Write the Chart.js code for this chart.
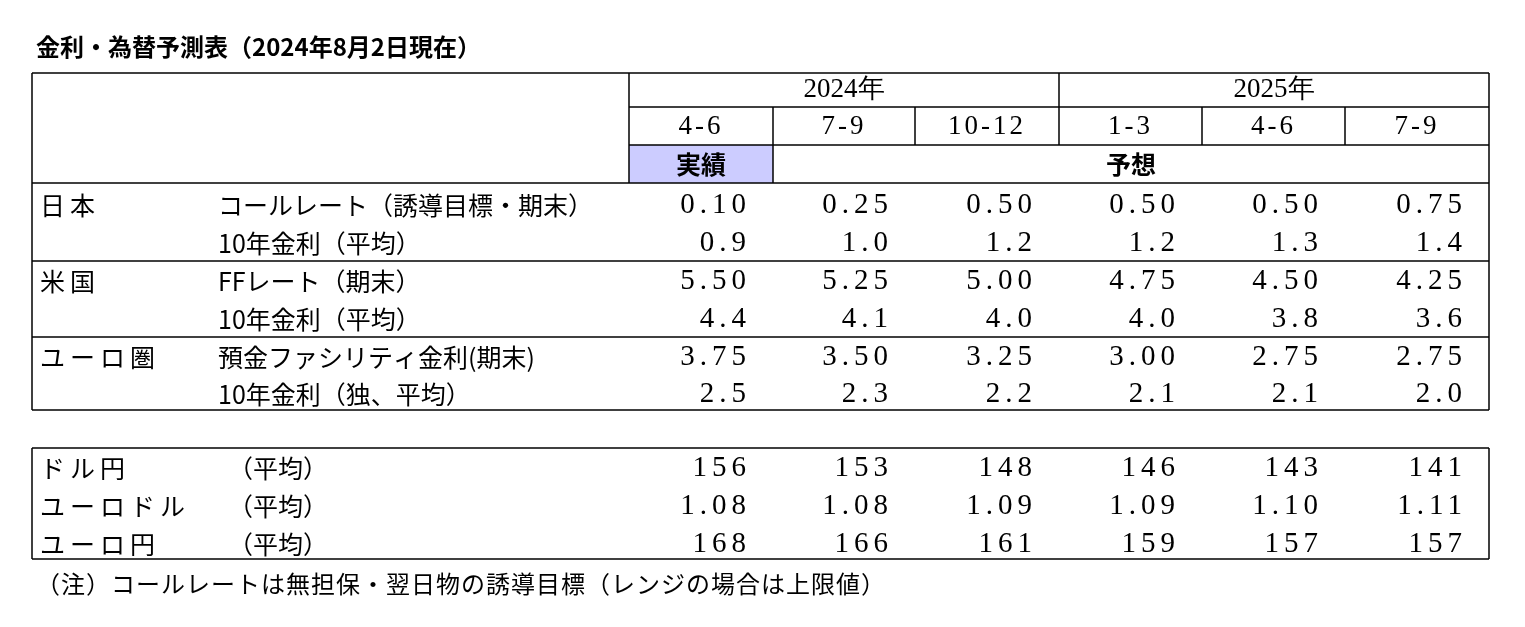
<!DOCTYPE html>
<html>
<head>
<meta charset="utf-8">
<script src="https://cdn.jsdelivr.net/npm/chart.js@4"></script>
<style>
  body { margin: 0; background: #fff; }
</style>
</head>
<body>
<canvas id="chart" width="1525" height="627"></canvas>
<script>
// table data
var title = '金利・為替予測表（2024年8月2日現在）';
var years = ['2024年', '2025年'];
var quarters = ['4-6', '7-9', '10-12', '1-3', '4-6', '7-9'];
var actualLabel = '実績';
var forecastLabel = '予想';
var regions = ['日本', '米国', 'ユーロ圏'];
var rateLabels = ['コールレート（誘導目標・期末）', '10年金利（平均）',
                  'FFレート（期末）', '10年金利（平均）',
                  '預金ファシリティ金利(期末)', '10年金利（独、平均）'];
var rates = [
  ['0.10', '0.25', '0.50', '0.50', '0.50', '0.75'],
  ['0.9', '1.0', '1.2', '1.2', '1.3', '1.4'],
  ['5.50', '5.25', '5.00', '4.75', '4.50', '4.25'],
  ['4.4', '4.1', '4.0', '4.0', '3.8', '3.6'],
  ['3.75', '3.50', '3.25', '3.00', '2.75', '2.75'],
  ['2.5', '2.3', '2.2', '2.1', '2.1', '2.0']
];
var fxLabels = ['ドル円', 'ユーロドル', 'ユーロ円'];
var fxSub = '（平均）';
var fx = [
  ['156', '153', '148', '146', '143', '141'],
  ['1.08', '1.08', '1.09', '1.09', '1.10', '1.11'],
  ['168', '166', '161', '159', '157', '157']
];
var note = '（注）コールレートは無担保・翌日物の誘導目標（レンジの場合は上限値）';

var JP = '"Noto Sans CJK JP", sans-serif';
var NUM = '"Liberation Serif", "DejaVu Serif", serif';

var tablePlugin = {
  id: 'table',
  afterDraw: function(chart) {
    var c = chart.ctx, X = chart.scales.x, Y = chart.scales.y;
    var px = function(v) { return X.getPixelForValue(v); };
    var py = function(v) { return Y.getPixelForValue(v); };
    var cols = [629, 773, 915, 1059, 1202, 1345, 1489];
    var L = 32, R = 1489;

    function line(x1, y1, x2, y2, w) {
      c.beginPath(); c.lineWidth = w || 1.5; c.strokeStyle = '#000';
      c.moveTo(px(x1), py(y1)); c.lineTo(px(x2), py(y2)); c.stroke();
    }
    function text(s, x, y, align, font, spacing) {
      c.font = font; c.textAlign = align; c.textBaseline = 'middle';
      c.fillStyle = '#000'; c.letterSpacing = spacing || '0px';
      c.fillText(s, px(x), py(y));
      c.letterSpacing = '0px';
    }

    c.save();
    text(title, 36, 47, 'left', 'bold 24px ' + JP);

    // header shading
    c.fillStyle = '#ccccff';
    c.fillRect(px(cols[0]), py(145), px(cols[1]) - px(cols[0]), py(183) - py(145));

    // table 1 frame
    line(L, 73, R, 73); line(L, 410, R, 410);
    line(L, 73, L, 410); line(R, 73, R, 410);
    line(cols[0], 73, cols[0], 183);
    line(cols[3], 73, cols[3], 107);
    line(cols[0], 107, R, 107); line(cols[0], 145, R, 145);
    cols.slice(1, 6).forEach(function(x) { line(x, 107, x, 145); });
    line(cols[1], 145, cols[1], 183);
    [183, 261, 337].forEach(function(y) { line(L, y, R, y); });

    text(years[0], (cols[0] + cols[3]) / 2, 90, 'center', '27px ' + NUM);
    text(years[1], (cols[3] + cols[6]) / 2, 90, 'center', '27px ' + NUM);
    quarters.forEach(function(q, i) {
      text(q, (cols[i] + cols[i + 1]) / 2, 127, 'center', '27px ' + NUM, '3px');
    });
    text(actualLabel, (cols[0] + cols[1]) / 2, 164, 'center', 'bold 25px ' + JP);
    text(forecastLabel, (cols[1] + cols[6]) / 2, 164, 'center', 'bold 25px ' + JP);

    var rowY = [205, 243, 281, 319, 357, 394];
    rateLabels.forEach(function(lab, r) {
      if (r % 2 === 0) text(regions[r / 2], 40, rowY[r], 'left', '25px ' + JP, '5px');
      text(lab, 218, rowY[r], 'left', '25px ' + JP);
      rates[r].forEach(function(v, i) {
        text(v, cols[i + 1] - 22, rowY[r], 'right', '29px ' + NUM, '5px');
      });
    });

    // table 2
    line(L, 448, R, 448); line(L, 559, R, 559);
    line(L, 448, L, 559); line(R, 448, R, 559);
    var fxY = [468, 506, 544];
    fxLabels.forEach(function(lab, r) {
      text(lab, 40, fxY[r], 'left', '25px ' + JP, '5px');
      text(fxSub, 228, fxY[r], 'left', '25px ' + JP);
      fx[r].forEach(function(v, i) {
        text(v, cols[i + 1] - 22, fxY[r], 'right', '29px ' + NUM, '5px');
      });
    });

    text(note, 36, 584, 'left', '24px ' + JP, '1px');
    c.restore();
  }
};

var chart = new Chart(document.getElementById('chart').getContext('2d'), {
  type: 'scatter',
  data: { datasets: [{ data: [] }] },
  options: {
    responsive: false,
    animation: false,
    devicePixelRatio: 1,
    layout: { padding: 0 },
    plugins: { legend: { display: false }, tooltip: { enabled: false } },
    scales: {
      x: { type: 'linear', min: 0, max: 1525, display: false },
      y: { type: 'linear', min: 0, max: 627, reverse: true, display: false }
    }
  },
  plugins: [tablePlugin]
});
</script>
</body>
</html>
